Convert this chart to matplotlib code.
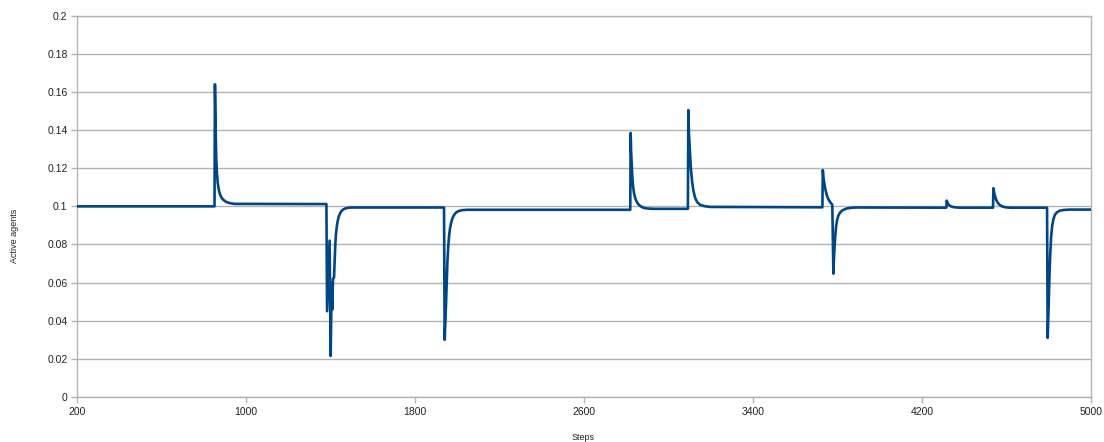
import matplotlib
matplotlib.use("Agg")
import matplotlib.pyplot as plt

# Simulation trace: fraction of active agents at each recorded step
steps = [
    200, 850,
    852, 854, 856, 858, 861, 865, 870, 876, 884, 894, 906, 922, 945,
    1380, 1383, 1395, 1400, 1405, 1408, 1411,
    1416, 1419, 1422, 1425, 1429, 1433, 1438, 1444, 1451, 1459, 1467, 1480, 1497,
    1937, 1940, 1943, 1945, 1948, 1950, 1953, 1957, 1961, 1965, 1970, 1976, 1983,
    1992, 2005, 2022, 2045,
    2819, 2821, 2823, 2826, 2829, 2832, 2837, 2842, 2847, 2855, 2866, 2880, 2897, 2930,
    3092, 3094, 3097, 3102, 3106, 3112, 3118, 3126, 3136, 3150, 3170, 3197,
    3729, 3731, 3734, 3739, 3744, 3750, 3757, 3766, 3776,
    3781, 3783, 3786, 3790, 3794, 3799, 3805, 3813, 3825, 3845, 3870, 3892,
    4316, 4318, 4322, 4326, 4330, 4338, 4349, 4365, 4380,
    4537, 4539, 4542, 4547, 4552, 4558, 4566, 4579, 4596, 4618,
    4793, 4796, 4799, 4801, 4804, 4808, 4812, 4817, 4823, 4830, 4839, 4853, 4871,
    4900, 5000,
]
active_agents = [
    0.1000, 0.1000,
    0.1640, 0.1500, 0.1360, 0.1260, 0.1180, 0.1125, 0.1088, 0.1062, 0.1044,
    0.1032, 0.1023, 0.1017, 0.1013,
    0.1012, 0.0450, 0.0820, 0.0215, 0.0600, 0.0460, 0.0620,
    0.0627, 0.0720, 0.0800, 0.0852, 0.0893, 0.0922, 0.0945, 0.0962, 0.0975,
    0.0983, 0.0988, 0.0992, 0.0994,
    0.0994, 0.0300, 0.0380, 0.0440, 0.0540, 0.0617, 0.0710, 0.0790, 0.0845,
    0.0882, 0.0910, 0.0935, 0.0952, 0.0966, 0.0975, 0.0980, 0.0982,
    0.0982, 0.1385, 0.1290, 0.1214, 0.1150, 0.1108, 0.1068, 0.1045, 0.1030,
    0.1014, 0.1002, 0.0993, 0.0989, 0.0987,
    0.0987, 0.1505, 0.1380, 0.1280, 0.1200, 0.1130, 0.1083, 0.1045, 0.1022,
    0.1008, 0.1001, 0.0997,
    0.0995, 0.1190, 0.1150, 0.1115, 0.1085, 0.1058, 0.1038, 0.1022, 0.1008,
    0.0647, 0.0710, 0.0775, 0.0845, 0.0895, 0.0930, 0.0952, 0.0968, 0.0980,
    0.0989, 0.0993, 0.0994,
    0.0993, 0.1030, 0.1018, 0.1011, 0.1006, 0.1000, 0.0996, 0.0994, 0.0993,
    0.0993, 0.1095, 0.1075, 0.1052, 0.1035, 0.1022, 0.1010, 0.1000, 0.0995, 0.0993,
    0.0993, 0.0310, 0.0410, 0.0494, 0.0620, 0.0745, 0.0835, 0.0895, 0.0933,
    0.0955, 0.0968, 0.0977, 0.0981,
    0.0983, 0.0983,
]

x_ticks = [200, 1000, 1800, 2600, 3400, 4200, 5000]
y_ticks = [0, 0.02, 0.04, 0.06, 0.08, 0.1, 0.12, 0.14, 0.16, 0.18, 0.2]
y_tick_labels = ["0", "0.02", "0.04", "0.06", "0.08", "0.1",
                 "0.12", "0.14", "0.16", "0.18", "0.2"]

plt.rcParams["font.family"] = ["Liberation Sans", "DejaVu Sans"]

grey = "#b3b3b3"
fig = plt.figure(figsize=(11.04, 4.42), dpi=100)
ax = fig.add_axes([0.070, 0.1018, 0.918, 0.8627])

ax.plot(steps, active_agents, color="#004586", linewidth=1.9,
        solid_joinstyle="round", solid_capstyle="round", zorder=3)

ax.set_xlim(200, 5000)
ax.set_ylim(0, 0.2)
ax.set_xticks(x_ticks)
ax.set_xticklabels([str(t) for t in x_ticks])
ax.set_yticks(y_ticks)
ax.set_yticklabels(y_tick_labels)

ax.grid(axis="y", color=grey, linewidth=1.0, zorder=1)
for side in ("left", "right", "top", "bottom"):
    ax.spines[side].set_color(grey)
    ax.spines[side].set_linewidth(1.0)

ax.tick_params(axis="both", colors=grey, length=4, width=1.0,
               labelsize=7.5, labelcolor="#222222")
ax.tick_params(axis="x", pad=3)
ax.tick_params(axis="y", pad=3)

fig.text(0.0127, 0.466, "Active agents", rotation=90, ha="center",
         va="center", fontsize=6.5, color="#222222")
fig.text(0.528, 0.011, "Steps", ha="center", va="center",
         fontsize=6.5, color="#222222")

fig.savefig("out.png", dpi=100, facecolor="white")
